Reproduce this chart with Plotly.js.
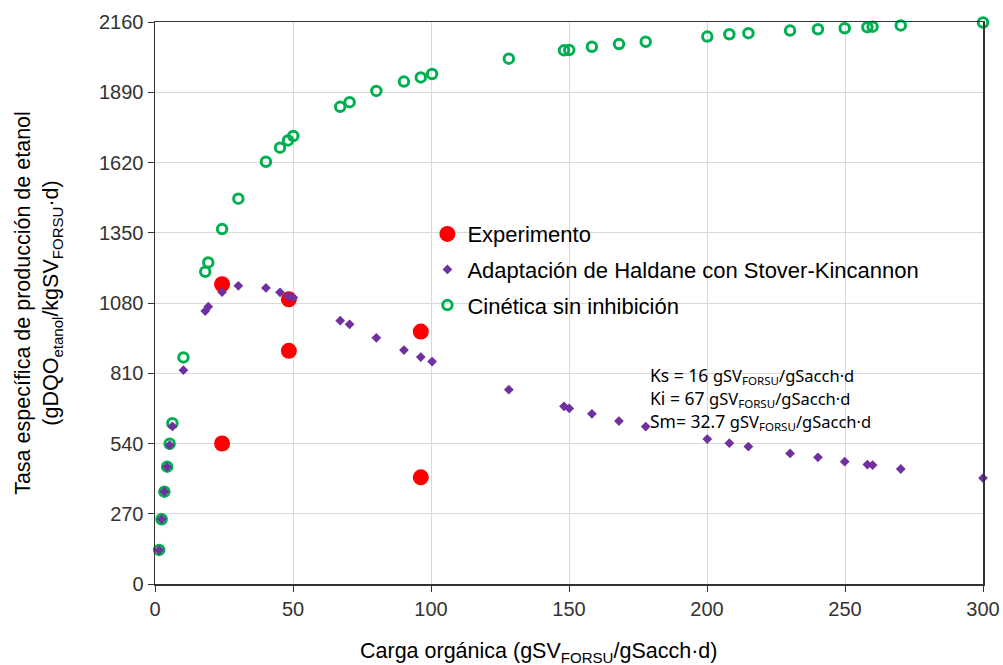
<!DOCTYPE html>
<html>
<head>
<meta charset="utf-8">
<script src="https://cdn.plot.ly/plotly-3.0.1.min.js"></script>
<style>html,body{margin:0;padding:0;background:#fff;}#chart{width:1003px;height:665px;}</style>
</head>
<body>
<div id="chart"></div>
<script>
// Experimento
const expX = [24.3, 24.3, 48.5, 48.5, 96.3, 96.3];
const expY = [540, 1152, 1094, 896, 970, 410];

// Carga orgánica values shared by the model curves
const modelX = [1.5, 2.4, 3.4, 4.4, 5.3, 6.3, 10.3, 18.2, 19.3, 24.3, 30.2, 40.2, 45.3, 48.2, 50.1, 67.1, 70.5, 80.2, 90.2, 96.3, 100.4, 128.2, 148.2, 150.1, 158.3, 168.1, 177.8, 200.1, 208.1, 215, 230.1, 240.2, 249.9, 258.1, 260, 270.2, 300];

// Adaptación de Haldane con Stover-Kincannon
const haldaneY = [130, 249, 355, 450, 534, 606, 822, 1049, 1066, 1122, 1146, 1138, 1121, 1106, 1101, 1012, 998, 946, 899, 872, 855, 747, 683, 675, 654, 626, 605, 557, 541, 528, 502, 487, 470, 459, 457, 442, 407];

// Cinética sin inhibición
const sinInhY = [131, 249, 355, 451, 539, 618, 871, 1200, 1236, 1364, 1481, 1623, 1677, 1705, 1722, 1834, 1852, 1895, 1931, 1947, 1960, 2019, 2051, 2052, 2065, 2075, 2084, 2104, 2113, 2117, 2127, 2132, 2136, 2140, 2142, 2147, 2158];

const xTicks = [0, 50, 100, 150, 200, 250, 300];
const yTicks = [0, 270, 540, 810, 1080, 1350, 1620, 1890, 2160];

const xTitle = 'Carga orgánica (gSV<sub>FORSU</sub>/gSacch·d)';
const yTitle = 'Tasa específica de producción de etanol<br>(gDQO<sub>etanol</sub>/kgSV<sub>FORSU</sub>·d)';
const paramLines = [
  ['Ks = 16 ', 'gSV<sub>FORSU</sub>/gSacch·d'],
  ['Ki = 67 ', 'gSV<sub>FORSU</sub>/gSacch·d'],
  ['Sm= 32.7 ', 'gSV<sub>FORSU</sub>/gSacch·d']
];

const traces = [
  {
    x: modelX, y: sinInhY, type: 'scatter', mode: 'markers',
    name: 'Cinética sin inhibición', legendrank: 3, legendgroup: 'c',
    marker: {symbol: 'circle-open', size: 9.5, color: '#00b050', line: {width: 3, color: '#00b050'}},
    cliponaxis: false
  },
  {
    x: expX, y: expY, type: 'scatter', mode: 'markers',
    name: 'Experimento', legendrank: 1, legendgroup: 'a',
    marker: {symbol: 'circle', size: 16, color: '#ff0000'},
    cliponaxis: false
  },
  {
    x: modelX, y: haldaneY, type: 'scatter', mode: 'markers',
    name: 'Adaptación de Haldane con Stover-Kincannon', legendrank: 2, legendgroup: 'b',
    marker: {symbol: 'diamond', size: 7.5, color: '#7030a0'},
    cliponaxis: false
  }
];

const FONT = 'Liberation Sans, Arial, sans-serif';
const tickFont = {family: FONT, size: 20, color: '#333333'};

const layout = {
  width: 1003, height: 665,
  margin: {l: 155, r: 20, t: 22, b: 81},
  paper_bgcolor: '#ffffff', plot_bgcolor: '#ffffff',
  showlegend: true,
  legend: {
    x: 0.329, y: 0.66, xanchor: 'left', yanchor: 'top',
    bgcolor: 'rgba(0,0,0,0)',
    font: {family: FONT, size: 22, color: '#000000'},
    itemwidth: 30, tracegroupgap: 4, traceorder: 'grouped'
  },
  xaxis: {
    range: [0, 300], tickvals: xTicks, ticktext: xTicks.map(String),
    showgrid: true, gridcolor: '#d9d9d9', gridwidth: 1,
    zeroline: false, showline: true, linecolor: '#333333', linewidth: 1.5, mirror: true,
    ticks: 'outside', ticklen: 6, tickcolor: '#333333',
    tickfont: tickFont
  },
  yaxis: {
    range: [0, 2160], tickvals: yTicks, ticktext: yTicks.map(String),
    showgrid: true, gridcolor: '#d9d9d9', gridwidth: 1,
    zeroline: false, showline: true, linecolor: '#333333', linewidth: 1.5, mirror: true,
    ticks: 'outside', ticklen: 6, tickcolor: '#333333',
    tickfont: tickFont,
    title: {text: yTitle, font: {family: FONT, size: 21.5, color: '#000000'}, standoff: 34}
  },
  annotations: [
    {
      xref: 'paper', yref: 'paper', x: 0.4626, y: -0.121, xanchor: 'center', yanchor: 'middle',
      showarrow: false,
      font: {family: FONT, size: 21.5, color: '#000000'},
      text: xTitle
    },
    {
      xref: 'paper', yref: 'paper', x: 0.596, y: 0.397, xanchor: 'left', yanchor: 'top',
      align: 'left', showarrow: false,
      font: {family: 'Noto Sans, Open Sans, sans-serif', size: 17.5, color: '#000000'},
      text: paramLines.map(p => p[0] + '<span style="font-size:16.5px">' + p[1] + '</span>').join('<br>')
    }
  ]
};

Plotly.newPlot('chart', traces, layout, {displayModeBar: false, staticPlot: true});
</script>
</body>
</html>
